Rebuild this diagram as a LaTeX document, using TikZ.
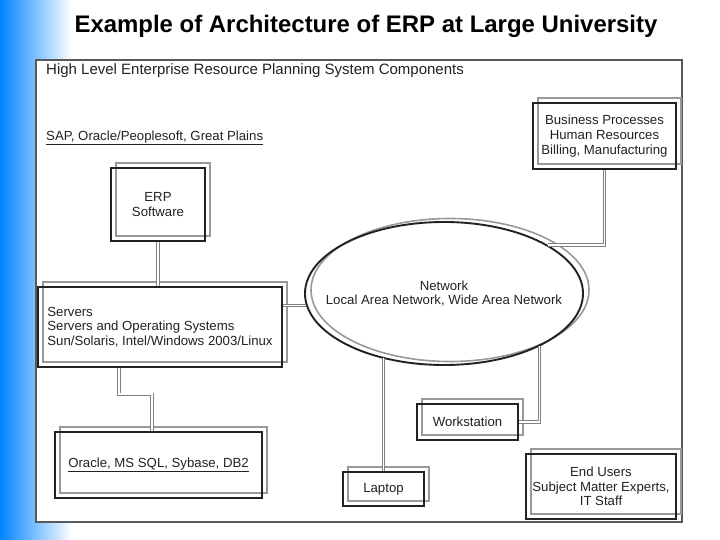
\documentclass[tikz,border=0pt]{standalone}
\usepackage{fontspec}
\setmainfont{Liberation Sans}
\usetikzlibrary{shapes.geometric,shadows}
\definecolor{bluebar}{RGB}{0,132,255}
\definecolor{inkgray}{RGB}{34,34,34}

\begin{document}
\begin{tikzpicture}[
          x=1pt, y=-1pt,
          every node/.style={text=inkgray, font=\fontsize{13.2}{14.6}\selectfont, inner sep=0pt},
          box/.style={rectangle, draw=inkgray, line width=2.4pt, align=center,
            general shadow={shadow xshift=5pt, shadow yshift=5pt, draw=black!40, line width=1.8pt}},
          cloud/.style={ellipse, draw=inkgray, line width=1.9pt, align=center, inner xsep=-22pt,
            general shadow={shadow xshift=6pt, shadow yshift=3.5pt, draw=black!40, line width=1.6pt}},
          link/.style={draw=black!50, line width=0.8pt, double=white, double distance=1.8pt},
          frame/.style={draw=black!65, line width=1.2pt, fill=white}
        ]
        \useasboundingbox (0,0) rectangle (720,540);
        % backdrop
        \shade[left color=bluebar, right color=white] (0,0) rectangle (72,540);
        \draw[frame] (36,60) rectangle (682,522);
        % title
        \node[font=\fontsize{23.95}{28}\selectfont\bfseries, text=black] (title) at (366,26)
          {Example of Architecture of ERP at Large University};
        \node[anchor=west, font=\fontsize{15}{17}\selectfont] (head) at (46,71)
          {High Level Enterprise Resource Planning System Components};
        \node[anchor=west] (vendors) at (46,138) {\underline{SAP, Oracle/Peoplesoft, Great Plains}};
        % boxes
        \node[box, minimum width=94pt, minimum height=73pt] (erp) at (158,204.5) {ERP\\Software};
        \node[box, align=left, minimum width=244pt, minimum height=80pt] (srv) at (160,327)
          {Servers\\Servers and Operating Systems\\Sun/Solaris, Intel/Windows 2003/Linux};
        \node[box, minimum width=207pt, minimum height=66pt] (db) at (158.5,465) {\underline{Oracle, MS SQL, Sybase, DB2}};
        \node[cloud, minimum width=278pt, minimum height=143pt] (net) at (444,293.5)
          {Network\\Local Area Network, Wide Area Network};
        \node[box, minimum width=143pt, minimum height=66pt] (bp) at (604.5,136)
          {Business Processes\\Human Resources\\Billing, Manufacturing};
        \node[box, minimum width=101pt, minimum height=36pt] (ws) at (467.5,422) {Workstation};
        \node[box, minimum width=81pt, minimum height=34pt] (lap) at (383.5,489) {Laptop};
        \node[box, minimum width=150pt, minimum height=65pt] (eu) at (601,486.5)
          {End Users\\Subject Matter Experts,\\IT Staff};
        % links
        \draw[link] (erp.south) -- (erp.south |- srv.north);
        \draw[link] (net.185 -| srv.east) -- (net.185);
        \draw[link] ([xshift=-41pt]srv.south) -- ++(0,26) -| ([xshift=-6.5pt]db.north);
        \draw[link] (bp.south) |- (net.25);
        \draw[link] (net.331) |- (ws.east);
        \draw[link] (net.226 -| lap.north) -- (lap.north);
\end{tikzpicture}
\end{document}
